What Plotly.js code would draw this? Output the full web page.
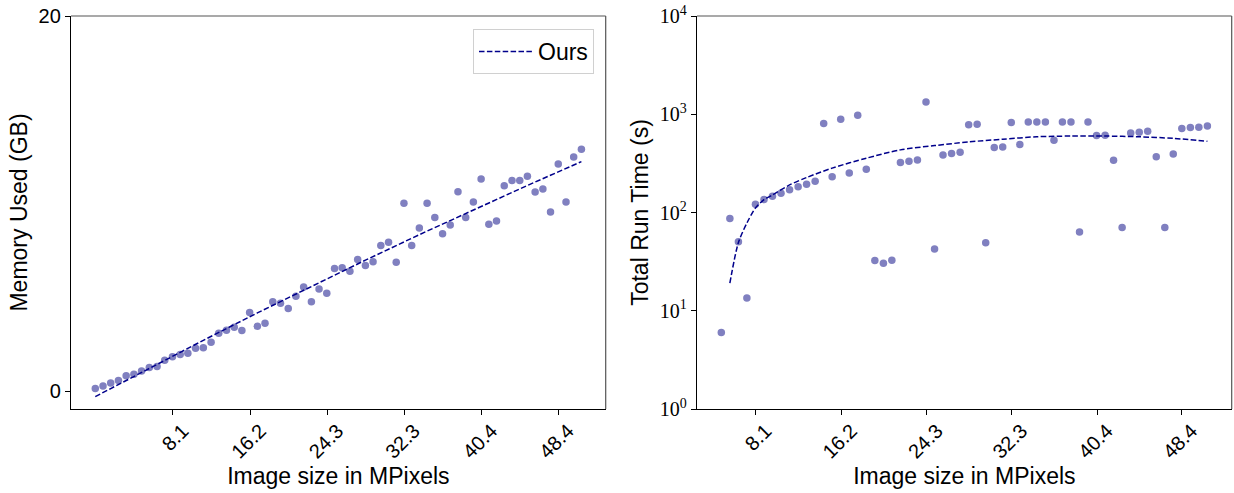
<!DOCTYPE html>
<html>
<head>
<meta charset="utf-8">
<script src="https://cdn.plot.ly/plotly-3.0.1.min.js"></script>
<style>
  html, body { margin: 0; padding: 0; background: #ffffff; }
  #chart { width: 1234px; height: 493px; }
</style>
</head>
<body>
<div id="chart"></div>
<script>
// Image sizes (MPixels) for each test image
const mpixels = [0.00,0.81,1.61,2.42,3.23,4.04,4.84,5.65,6.46,7.26,
  8.07,8.88,9.68,10.49,11.30,12.11,12.91,13.72,14.53,15.33,
  16.14,16.95,17.75,18.56,19.37,20.18,20.98,21.79,22.60,23.40,
  24.21,25.02,25.82,26.63,27.44,28.25,29.05,29.86,30.67,31.47,
  32.28,33.09,33.89,34.70,35.51,36.32,37.12,37.93,38.74,39.54,
  40.35,41.16,41.96,42.77,43.58,44.39,45.19,46.00,46.81,47.61,
  48.42,49.23,50.03,50.84];

// Memory used (GB)
const memoryGB = [0.15,0.29,0.44,0.58,0.83,0.91,1.09,1.27,1.32,1.66,
  1.84,1.96,2.03,2.30,2.33,2.62,3.10,3.26,3.42,3.24,
  4.20,3.47,3.63,4.77,4.69,4.41,5.07,5.56,4.77,5.46,
  5.23,6.54,6.59,6.40,7.02,6.70,6.91,7.77,7.94,6.88,
  10.02,7.77,8.71,10.02,9.26,8.40,8.87,10.64,9.26,10.09,
  11.32,8.90,9.08,10.96,11.23,11.23,11.46,10.62,10.78,9.56,
  12.11,10.09,12.49,12.90];

// Fit ("Ours") for memory
const memFitX = [0.00,5.65,11.30,16.95,22.60,28.25,33.89,39.54,45.19,50.84];
const memFitY = [-0.28,1.24,2.72,4.18,5.60,6.99,8.35,9.68,10.97,12.24];

// Total run time (s), images from the 7th onward
const runX = mpixels.slice(6);
const runTime = [6.0,86.9,50.4,13.5,121.6,135.6,146.6,157.4,170.3,182.5,
  194.2,208.3,803,230.6,889,253,977,276,32.5,30.5,
  32.7,322,333,343,1334,42.4,385,398,411,780,
  791,49.2,458,465,822,492,836,836,836,545,
  836,836,63.5,836,607,611,340,70.3,646,656,
  671,370,70.3,395,714,731,738,760];

// Fit for run time
const runFitX = [5.65,6.46,7.26,8.07,8.88,9.68,11.30,12.91,15.33,18.56,
  21.79,25.02,28.25,31.47,34.70,37.93,41.16,44.39,47.61,50.84];
const runFitY = [19.1,49.5,78,111,135,151,191,227,283,357,
  434,480,523,557,590,600,600,590,568,531];

// Tick labels
const xTickVals = [8.1,16.2,24.3,32.3,40.4,48.4];
const xTickText = ['8.1','16.2','24.3','32.3','40.4','48.4'];
const memTickVals = [0,20];
const runTickVals = [1,10,100,1000,10000];
const runTickText = ['10<sup>0</sup>','10<sup>1</sup>','10<sup>2</sup>','10<sup>3</sup>','10<sup>4</sup>'];

const dotColor = '#8080c0';
const fitColor = '#00008b';
const sans = 'Liberation Sans, Arial, sans-serif';
const serif = 'Liberation Serif, DejaVu Serif, serif';

const traces = [
  {x: mpixels, y: memoryGB, type: 'scatter', mode: 'markers', xaxis: 'x', yaxis: 'y',
   marker: {color: dotColor, size: 7.5}, showlegend: false, hoverinfo: 'skip'},
  {x: memFitX, y: memFitY, type: 'scatter', mode: 'lines', xaxis: 'x', yaxis: 'y',
   name: 'Ours', line: {color: fitColor, width: 1.5, dash: '5.5px,2.4px'}, showlegend: true},
  {x: runX, y: runTime, type: 'scatter', mode: 'markers', xaxis: 'x2', yaxis: 'y2',
   marker: {color: dotColor, size: 7.5}, showlegend: false, hoverinfo: 'skip'},
  {x: runFitX, y: runFitY, type: 'scatter', mode: 'lines', xaxis: 'x2', yaxis: 'y2',
   line: {color: fitColor, width: 1.5, dash: '5.5px,2.4px', shape: 'spline', smoothing: 0.8}, showlegend: false}
];

const yDom = [1 - 409/493, 1 - 16/493];
const xCommon = {
  tickvals: xTickVals, ticktext: xTickText, tickangle: -45,
  ticks: 'outside', ticklen: 5, tickwidth: 1, tickcolor: '#000',
  showline: true, linecolor: '#000', linewidth: 1.2, showgrid: false, zeroline: false,
  tickfont: {family: sans, size: 20, color: '#000'}, ticklabelshift: 10, ticklabelstandoff: -4,
  title: {text: 'Image size in MPixels', font: {family: sans, size: 23, color: '#000'}, standoff: 0}
};

const layout = {
  width: 1234, height: 493,
  margin: {l: 0, r: 0, t: 0, b: 0},
  paper_bgcolor: '#ffffff', plot_bgcolor: '#ffffff',
  showlegend: true,
  legend: {x: 594/1234, xanchor: 'right', y: 1 - 29/493, yanchor: 'top',
    bgcolor: '#ffffff', bordercolor: '#d0d0d0', borderwidth: 1, itemwidth: 54,
    font: {family: sans, size: 23, color: '#000'}},
  xaxis: Object.assign({}, xCommon, {domain: [71/1234, 605.7/1234], range: [-2.54, 53.38], anchor: 'y'}),
  xaxis2: Object.assign({}, xCommon, {domain: [697/1234, 1231.7/1234], range: [2.54, 53.14], anchor: 'y2'}),
  yaxis: {domain: yDom, range: [-0.94, 20], tickvals: memTickVals,
    ticks: 'outside', ticklen: 5, tickwidth: 1, tickcolor: '#000',
    showline: true, linecolor: '#000', linewidth: 1.2, showgrid: false, zeroline: false,
    tickfont: {family: sans, size: 20, color: '#000'}, anchor: 'x',
    title: {text: 'Memory Used (GB)', font: {family: sans, size: 23, color: '#000'}, standoff: 4}},
  yaxis2: {domain: yDom, type: 'log', range: [0, 4], tickvals: runTickVals, ticktext: runTickText,
    ticks: 'outside', ticklen: 5, tickwidth: 1, tickcolor: '#000',
    showline: true, linecolor: '#000', linewidth: 1.2, showgrid: false, zeroline: false,
    tickfont: {family: serif, size: 20, color: '#000'}, anchor: 'x2',
    title: {text: 'Total Run Time (s)', font: {family: sans, size: 23, color: '#000'}, standoff: 4}},
  shapes: [
    {type: 'line', xref: 'x domain', yref: 'y domain', x0: 0, x1: 1, y0: 1, y1: 1, line: {color: '#555555', width: 1.2}},
    {type: 'line', xref: 'x domain', yref: 'y domain', x0: 1, x1: 1, y0: 0, y1: 1, line: {color: '#555555', width: 1.2}},
    {type: 'line', xref: 'x2 domain', yref: 'y2 domain', x0: 0, x1: 1, y0: 1, y1: 1, line: {color: '#555555', width: 1.2}},
    {type: 'line', xref: 'x2 domain', yref: 'y2 domain', x0: 1, x1: 1, y0: 0, y1: 1, line: {color: '#555555', width: 1.2}}
  ]
};

Plotly.newPlot('chart', traces, layout, {staticPlot: true, displayModeBar: false});
</script>
</body>
</html>
